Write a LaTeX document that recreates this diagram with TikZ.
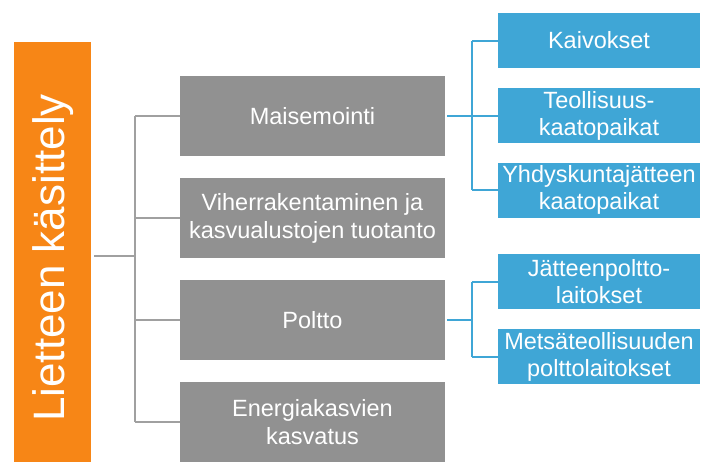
\documentclass[tikz,border=0pt]{standalone}
\usepackage{fontspec}
\setmainfont{Liberation Sans}
\definecolor{orangec}{RGB}{247,134,22}
\definecolor{grayc}{RGB}{145,145,145}
\definecolor{bluec}{RGB}{63,166,214}
\definecolor{glinec}{RGB}{160,160,160}
\begin{document}
\begin{tikzpicture}[x=1pt,y=-1pt,
  graybox/.style={fill=grayc,draw=none,minimum width=265pt,minimum height=80pt,inner sep=0pt,text=white,align=center,font=\fontsize{23.5}{28}\selectfont},
  bluebox/.style={fill=bluec,draw=none,minimum width=202pt,minimum height=55pt,inner sep=0pt,text=white,align=center,font=\fontsize{23.5}{27}\selectfont},
  gline/.style={draw=glinec,line width=2pt},
  bline/.style={draw=bluec,line width=2pt}]
\useasboundingbox (0,0) rectangle (702,461);
\clip (0,0) rectangle (702,461);
\node[fill=orangec,minimum width=77pt,minimum height=428pt,inner sep=0pt] (o) at (52.5,256) {};
\node[rotate=90,text=white,font=\fontsize{44}{50}\selectfont] (ot) at (53,258) {Lietteen käsittely};
\node[graybox] (m) at (312.5,116) {Maisemointi};
\node[graybox] (v) at (312.5,218) {Viherrakentaminen ja\\kasvualustojen tuotanto};
\node[graybox] (p) at (312.5,320) {Poltto};
\node[graybox] (e) at (312.5,422) {Energiakasvien\\kasvatus};
\node[bluebox] (k) at (599,40.5) {Kaivokset};
\node[bluebox] (t) at (599,115.5) {Teollisuus-\\kaatopaikat};
\node[bluebox] (y) at (599,190) {Yhdyskuntajätteen\\kaatopaikat};
\node[bluebox] (jp) at (599,281.5) {Jätteenpoltto-\\laitokset};
\node[bluebox] (mp) at (599,356.5) {Metsäteollisuuden\\polttolaitokset};
\coordinate (gj) at (135,256);
\coordinate (bj) at (472,0);
\draw[gline,shorten <=3pt] (o.east) -- (gj);
\draw[gline] (gj |- m.west) -- (gj |- e.west);
\draw[gline] (gj |- m.west) -- (m.west);
\draw[gline] (gj |- v.west) -- (v.west);
\draw[gline] (gj |- p.west) -- (p.west);
\draw[gline] (gj |- e.west) -- (e.west);
\draw[bline,shorten <=2pt] (m.east) -- (bj |- m.east);
\draw[bline] (bj |- k.west) -- (bj |- y.west);
\draw[bline] (bj |- k.west) -- (k.west);
\draw[bline] (bj |- t.west) -- (t.west);
\draw[bline] (bj |- y.west) -- (y.west);
\draw[bline,shorten <=2pt] (p.east) -- (bj |- p.east);
\draw[bline] (bj |- jp.west) -- (bj |- mp.west);
\draw[bline] (bj |- jp.west) -- (jp.west);
\draw[bline] (bj |- mp.west) -- (mp.west);
\end{tikzpicture}
\end{document}
